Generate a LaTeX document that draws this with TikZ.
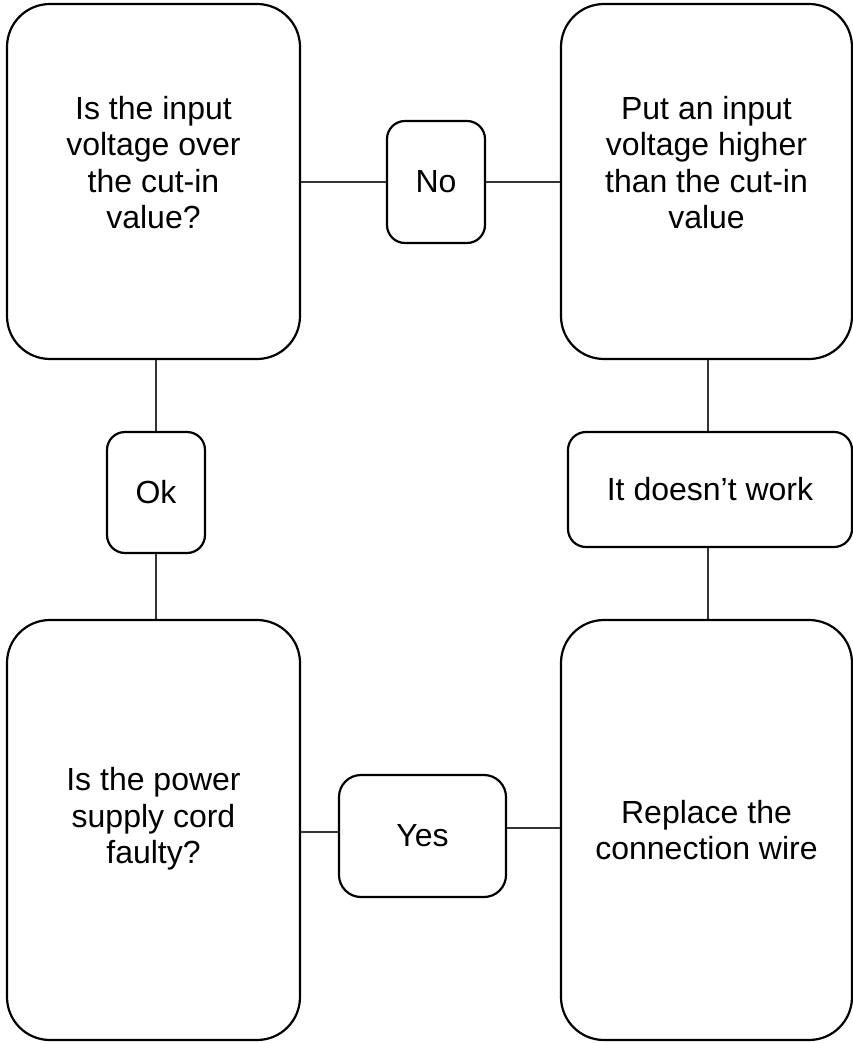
\documentclass[tikz,border=0pt]{standalone}
\usepackage{fontspec}
\setmainfont{Liberation Sans}
\begin{document}
\begin{tikzpicture}[x=1pt,y=-1pt,
  bigbox/.style={draw=black, line width=2.2pt, rounded corners=43pt, minimum width=#1, inner sep=0pt},
  smallbox/.style={draw=black, line width=2.2pt, rounded corners=18pt, align=center, inner sep=0pt},
  txt/.style={align=center, inner sep=0pt},
  conn/.style={draw=black!80, line width=1.2pt},
  every node/.style={font=\fontsize{32}{36.5}\selectfont}]
\fill[white] (0,0) rectangle (853,1043);
\useasboundingbox (0,0) rectangle (853,1043);
% big boxes
\node[bigbox=293pt, minimum height=355pt] (tl) at (153.5,181.5) {};
\node[txt] (tltext) at ([yshift=19pt]tl.center) {Is the input\\voltage over\\the cut-in\\value?};
\node[bigbox=291pt, minimum height=355pt] (tr) at (706.5,181.5) {};
\node[txt] (trtext) at ([yshift=19pt]tr.center) {Put an input\\voltage higher\\than the cut-in\\value};
\node[bigbox=293pt, minimum height=420pt] (bl) at (153.5,830) {};
\node[txt] (bltext) at ([yshift=11pt]bl.center) {Is the power\\supply cord\\faulty?};
\node[bigbox=291pt, minimum height=420pt] (br) at (706.5,830) {};
\node[txt] (brtext) at (br.center) {Replace the\\connection wire};
% small boxes
\node[smallbox, minimum width=98pt, minimum height=122pt] (no) at (436,182) {No};
\node[smallbox, minimum width=98pt, minimum height=121pt] (ok) at (156,492.5) {Ok};
\node[smallbox, minimum width=284pt, minimum height=115pt] (idw) at (710,489.5) {It doesn’t work};
\node[smallbox, minimum width=167pt, minimum height=122pt, rounded corners=22pt] (yes) at (422.5,836) {Yes};
% connectors
\draw[conn] (tl.east |- no.west) -- (no.west);
\draw[conn] (no.east) -- (no.east -| tr.west);
\draw[conn] (ok.north) -- (ok.north |- tl.south);
\draw[conn] (ok.south) -- (ok.south |- bl.north);
\draw[conn] ([xshift=-2pt]idw.north) -- ([xshift=-2pt]idw.north |- tr.south);
\draw[conn] ([xshift=-2pt]idw.south) -- ([xshift=-2pt]idw.south |- br.north);
\draw[conn] ([yshift=4pt]yes.west) -- ([yshift=4pt]yes.west -| bl.east);
\draw[conn] ([yshift=8pt]yes.east) -- ([yshift=8pt]yes.east -| br.west);
\end{tikzpicture}
\end{document}
